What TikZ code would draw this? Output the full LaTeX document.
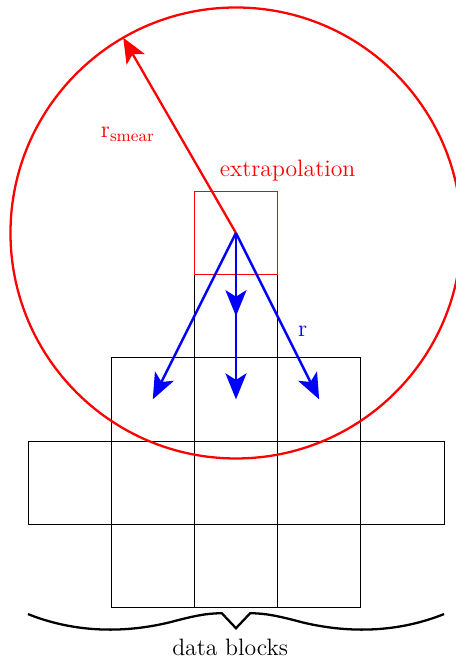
\documentclass[tikz,border=0pt]{standalone}
\usetikzlibrary{arrows.meta, positioning}

\begin{document}
\begin{tikzpicture}[
    x=1.664cm, y=1.664cm,
    blk/.style={draw, minimum size=1.664cm, inner sep=0pt, line width=0.5pt},
    smear/.style={red, line width=1.3pt},
    ray/.style={-{Stealth[length=0.52cm, width=0.42cm, inset=0.13cm]}, blue, line width=1.4pt},
    lbl/.style={font=\fontsize{13.5}{15}\selectfont},
    brc/.style={line width=1.3pt}
  ]
    \useasboundingbox (-2.836,-5.192) rectangle (2.644,2.80);
    \coordinate (src) at (0,0);

    % data blocks
    \node[blk] (top) at (0,-1) {};
    \foreach \i in {-1,0,1} {
      \node[blk] (up\i) at (\i,-2) {};
      \node[blk] (low\i) at (\i,-4) {};
    }
    \foreach \i in {-2,...,2}
      \node[blk] (mid\i) at (\i,-3) {};
    \node[blk, draw=red] (extrap) at (0,0) {};

    % smearing radius
    \draw[smear] (src) circle (2.71);
    \coordinate (rim) at (120:2.71);
    \draw[smear, -{Stealth[length=0.5cm, width=0.42cm, inset=0.12cm]}] (src) -- (rim);

    \draw[ray] (src) -- (up-1.center);
    \draw[ray] (src) -- (top.center);
    \draw[ray] (src) -- (up0.center);
    \draw[ray] (src) -- (up1.center);

    \node[lbl, red] (extlab) at (0.62,0.745) {extrapolation};
    \node[lbl, red] (smlab) at (-1.30,1.19) {r\textsubscript{smear}};
    \node[lbl, blue] (rlab) at (0.80,-1.18) {r};

    % brace
    \draw[brc] (-2.5,-4.58) .. controls (-1.9,-4.82) and (-1.3,-4.80) .. (-0.8,-4.68)
      .. controls (-0.5,-4.60) and (-0.35,-4.57) .. (-0.17,-4.57) -- (0,-4.75) -- (0.17,-4.57)
      .. controls (0.35,-4.57) and (0.5,-4.60) .. (0.8,-4.68)
      .. controls (1.3,-4.80) and (1.9,-4.82) .. (2.5,-4.58);
    \node[lbl] (dlab) at (-0.07,-4.98) {data blocks};
  \end{tikzpicture}
\end{document}
